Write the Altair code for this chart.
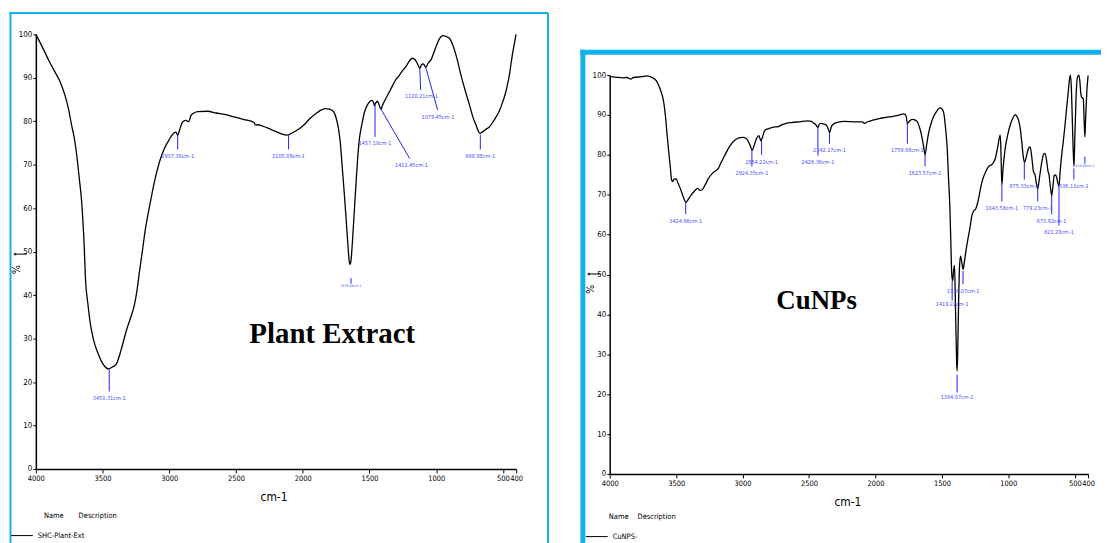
import altair as alt
import pandas as pd

# ---------------- data ----------------
plant_wn = [4000, 3950, 3900, 3856, 3820, 3782, 3755, 3732, 3710, 3694, 3675, 3657, 3640, 3627,
            3610, 3595, 3570, 3533, 3500, 3470, 3454, 3430, 3396, 3360, 3322, 3290, 3260, 3240,
            3223, 3200, 3180, 3160, 3135, 3111, 3075, 3036, 3000, 2962, 2950, 2937, 2920, 2899,
            2875, 2857, 2845, 2837, 2815, 2787, 2713, 2650, 2580, 2515, 2440, 2365, 2353, 2340,
            2300, 2250, 2200, 2160, 2117, 2080, 2040, 1993, 1950, 1900, 1860, 1831, 1800, 1769,
            1750, 1732, 1718, 1707, 1690, 1675, 1660, 1650, 1645, 1638, 1628, 1615, 1600, 1590,
            1575, 1558, 1535, 1508, 1483, 1470, 1463, 1455, 1441, 1430, 1414, 1400, 1371, 1340,
            1297, 1285, 1260, 1222, 1200, 1178, 1160, 1148, 1135, 1123, 1110, 1098, 1088, 1078,
            1060, 1036, 1015, 998, 975, 949, 925, 900, 875, 850, 825, 800, 775, 750, 725, 700,
            685, 671, 655, 630, 601, 575, 551, 525, 502, 480, 465, 452, 440, 425, 410, 402]
plant_t = [100.0, 97.0, 93.8, 91.3, 89.2, 86.0, 82.8, 79.1, 75.8, 72.3, 67.0, 61.6, 53.0, 43.2,
           38.0, 34.1, 30.0, 26.5, 24.3, 23.2, 23.0, 23.4, 24.2, 27.5, 31.8, 34.8, 37.9, 41.5,
           45.5, 50.5, 55.0, 58.5, 62.5, 66.1, 70.5, 73.8, 75.8, 77.4, 77.5, 76.8, 78.3, 79.9,
           80.2, 79.9, 80.6, 81.4, 81.9, 82.2, 82.3, 81.9, 81.5, 81.0, 80.4, 79.7, 79.1, 79.2,
           78.9, 78.3, 77.6, 77.1, 76.8, 77.3, 78.0, 79.1, 80.5, 81.8, 82.6, 82.9, 82.8, 82.2,
           80.8, 78.3, 75.0, 70.7, 64.0, 57.7, 51.0, 47.5, 47.1, 48.0, 52.0, 58.5, 66.0, 70.7,
           76.0, 79.1, 82.3, 84.1, 84.8, 84.4, 83.6, 84.1, 84.6, 84.0, 82.8, 83.8, 85.6, 87.4,
           89.8, 90.2, 91.3, 92.8, 93.9, 94.5, 94.2, 93.7, 92.9, 92.2, 93.0, 93.2, 92.9, 92.4,
           93.4, 94.3, 96.0, 97.4, 99.0, 99.7, 99.5, 99.1, 97.5, 95.1, 92.0, 89.0, 86.3, 83.7,
           81.0, 79.0, 77.8, 77.2, 77.5, 78.1, 78.7, 79.8, 81.0, 82.5, 84.4, 86.5, 88.5, 90.5,
           93.0, 96.0, 98.5, 100.0]

cunp_wn = [4000, 3960, 3900, 3870, 3843, 3820, 3760, 3720, 3680, 3650, 3631, 3610, 3594, 3580,
           3568, 3555, 3543, 3535, 3528, 3515, 3500, 3485, 3469, 3450, 3426, 3410, 3394, 3360,
           3340, 3320, 3306, 3280, 3257, 3220, 3182, 3160, 3132, 3100, 3057, 3020, 2990, 2965,
           2945, 2927, 2912, 2895, 2877, 2862, 2850, 2832, 2800, 2758, 2730, 2707, 2670, 2633,
           2570, 2508, 2480, 2471, 2450, 2433, 2420, 2408, 2385, 2371, 2355, 2346, 2330, 2309,
           2271, 2234, 2150, 2097, 2084, 2060, 2020, 1972, 1900, 1830, 1785, 1770, 1760, 1740,
           1722, 1700, 1685, 1665, 1648, 1635, 1627, 1615, 1600, 1585, 1560, 1540, 1523, 1510,
           1497, 1485, 1472, 1460, 1450, 1440, 1432, 1428, 1423, 1419, 1412, 1405, 1398, 1390,
           1386, 1382, 1375, 1368, 1360, 1350, 1340, 1330, 1311, 1290, 1273, 1260, 1248, 1235,
           1223, 1210, 1198, 1170, 1148, 1124, 1110, 1098, 1080, 1061, 1055, 1049, 1040, 1024,
           1005, 986, 965, 949, 935, 920, 911, 900, 890, 879, 865, 850, 836, 825, 811, 799, 790,
           779, 765, 745, 735, 724, 712, 702, 694, 684, 674, 665, 655, 645, 636, 628, 619, 610,
           600, 587, 575, 562, 550, 540, 532, 525, 518, 512, 506, 500, 490, 480, 469, 462, 455,
           449, 443, 436, 430, 424, 418, 410, 400]
cunp_t = [99.6, 99.5, 99.3, 99.4, 99.0, 99.4, 99.6, 99.8, 99.4, 98.6, 97.4, 95.5, 93.3, 89.5,
          85.0, 80.5, 76.6, 73.8, 73.3, 73.9, 74.0, 72.8, 71.6, 69.8, 68.1, 68.8, 69.6, 71.0,
          71.6, 71.1, 71.2, 72.6, 74.1, 75.6, 76.6, 78.2, 80.0, 82.0, 83.7, 84.3, 84.4, 83.8,
          82.5, 81.2, 82.5, 84.1, 84.8, 83.5, 84.5, 86.2, 86.6, 87.0, 87.1, 87.5, 87.9, 88.1,
          88.3, 88.5, 88.4, 88.1, 87.6, 86.9, 87.8, 87.9, 87.7, 87.5, 86.5, 85.6, 87.2, 87.9,
          88.3, 88.4, 88.3, 88.3, 87.9, 88.3, 88.7, 89.1, 89.5, 89.9, 90.3, 89.8, 87.9, 88.6,
          88.9, 88.7, 88.3, 86.5, 84.1, 81.5, 80.0, 82.5, 85.5, 87.5, 89.8, 90.9, 91.6, 91.8,
          91.4, 90.3, 86.5, 81.6, 74.0, 66.7, 57.0, 51.7, 49.0, 48.5, 51.0, 52.3, 42.0, 29.0,
          25.8, 29.0, 42.0, 51.5, 54.6, 53.0, 51.3, 53.5, 57.6, 61.5, 65.0, 66.0, 66.3, 67.5,
          69.2, 71.5, 73.3, 75.8, 77.1, 77.6, 78.2, 79.1, 82.0, 85.0, 80.0, 72.5, 76.5, 81.6,
          85.0, 87.5, 89.3, 90.1, 89.6, 88.3, 86.7, 83.5, 80.2, 78.1, 79.5, 81.5, 82.0, 79.8,
          75.8, 75.0, 73.0, 71.4, 74.5, 78.8, 80.2, 80.4, 78.5, 76.0, 75.0, 72.0, 69.8, 72.0,
          74.8, 75.0, 74.3, 73.0, 72.1, 76.0, 79.5, 83.3, 87.0, 91.6, 95.5, 99.0, 100.0, 96.0,
          88.0, 81.0, 77.1, 84.0, 95.0, 99.5, 100.0, 98.5, 95.5, 94.5, 94.3, 94.1, 89.0, 84.5,
          89.5, 95.5, 99.9]

# peak annotations: label text, leader line (start wn, start %, end wn, end %), label position
plant_pk_label = ["3450.31cm-1", "2937.38cm-1", "2105.89cm-1", "1638.44cm-1", "1457.18cm-1",
                  "1412.45cm-1", "1120.21cm-1", "1079.45cm-1", "668.98cm-1"]
plant_pk_wn = [3450, 2937, 2106, 1638, 1458, 1414, 1123, 1078, 669]
plant_pk_t = [22.9, 76.9, 76.9, 43.9, 83.8, 82.8, 92.2, 92.4, 76.9]
plant_pk_wn2 = [3450, 2937, 2106, 1638, 1458, 1198, 1116, 989, 669]
plant_pk_t2 = [17.8, 73.5, 73.5, 42.6, 76.4, 71.4, 87.2, 82.6, 73.5]
plant_lb_wn = [3450, 2937, 2106, 1638, 1458, 1185, 1110, 987, 669]
plant_lb_t = [16.3, 71.9, 72.1, 42.1, 75.1, 70.0, 85.8, 81.0, 72.1]
plant_lb_size = [5.5, 5.5, 5.5, 3.5, 5.5, 5.5, 5.5, 5.5, 5.5]

cunp_pk_label = ["3424.66cm-1", "2924.35cm-1", "2854.22cm-1", "2426.36cm-1", "2342.17cm-1",
                 "1759.98cm-1", "1623.57cm-1", "1419.22cm-1", "1384.07cm-1", "1336.07cm-1",
                 "1043.58cm-1", "875.33cm-1", "779.23cm-1", "673.92cm-1", "621.28cm-1",
                 "506.11cm-1", "424.66cm-1"]
cunp_pk_wn = [3428, 2930, 2857, 2433, 2346, 1760, 1627, 1423, 1386, 1341, 1049, 880, 779, 674,
              619, 507, 424]
cunp_pk_t = [68.1, 81.3, 83.5, 87.0, 85.5, 87.8, 80.0, 48.4, 24.9, 50.9, 72.6, 78.1, 71.3, 69.8,
             72.1, 76.6, 79.6]
cunp_pk_t2 = [65.1, 77.1, 80.0, 79.8, 82.8, 82.8, 77.1, 43.4, 20.4, 47.6, 68.3, 73.8, 68.3, 65.1,
              62.3, 73.8, 77.8]
cunp_lb_t = [63.3, 75.4, 78.3, 78.1, 81.2, 81.2, 75.4, 42.7, 19.3, 45.9, 66.7, 72.1, 66.7, 63.3,
             60.7, 72.1, 77.3]
cunp_lb_size = [5.5, 5.5, 5.5, 5.5, 5.5, 5.5, 5.5, 5.5, 5.5, 5.5, 5.5, 5.5, 5.5, 5.5, 5.5, 5.5, 3.5]

XTICKS = [4000, 3500, 3000, 2500, 2000, 1500, 1000, 500, 400]
YTICKS = [0, 10, 20, 30, 40, 50, 60, 70, 80, 90, 100]

NARROW = "DejaVu Sans Condensed, Liberation Sans Narrow, Arial Narrow, sans-serif"
SERIF = "Liberation Serif, Times New Roman, serif"
FRAME = "#12b0ec"
PEAK = "#2020ff"
PEAK_TXT = "#4a4aff"
XLABEL_EXPR = ("datum.value == 500 ? '500\u00a0' : "
               "(datum.value == 400 ? '\u00a0400' : datum.label)")


def panel(wn, t, pk, title_text, title_pos, legend_name, geom):
    w, h, yrange, frame, ypct = geom["w"], geom["h"], geom["yrange"], geom["frame"], geom["ypct"]
    xs = alt.Scale(domain=[400, 4000], reverse=True, nice=False, zero=False)
    ys = alt.Scale(domain=[0, 100], range=yrange, nice=False, zero=False)
    xa = alt.Axis(values=XTICKS, format="d", labelExpr=XLABEL_EXPR, title="cm-1",
                  titleX=geom["tx"], titleY=28,
                  titleFont=NARROW, titleFontSize=12, titleFontWeight="normal", titleColor="black",
                  titleBaseline="middle", labelFont=NARROW, labelFontSize=7.5, labelColor="black",
                  labelPadding=2, tickSize=4, tickColor="black", domainColor="black",
                  domainWidth=1.5, grid=False, labelOverlap=False, labelFlush=False, labelBound=False)
    ya = alt.Axis(values=YTICKS, format="d", title="%", titleX=-19, titleY=ypct,
                  titleFont=NARROW, titleFontSize=11, titleFontWeight="normal", titleColor="black",
                  titleAngle=-90, titleBaseline="middle", titleAlign="center",
                  labelFont=NARROW, labelFontSize=8, labelColor="black", labelPadding=1,
                  tickSize=3, tickColor="black", domainColor="black", domainWidth=1.5,
                  grid=False, labelOverlap=False, labelFlush=False, labelBound=False)
    X = lambda f: alt.X(f, type="quantitative", scale=xs, axis=xa)
    Y = lambda f: alt.Y(f, type="quantitative", scale=ys, axis=ya)

    df = pd.DataFrame({"wn": wn, "T": t})
    line = alt.Chart(df).mark_line(color="black", strokeWidth=1.3, interpolate="monotone").encode(
        x=X("wn"), y=Y("T"), order=alt.Order("wn", sort="descending"))

    pdf = pd.DataFrame(pk)
    rules = alt.Chart(pdf).mark_rule(color=PEAK, strokeWidth=1).encode(
        x=X("wn"), x2="wn2", y=Y("T"), y2="T2")
    labels = alt.Chart(pdf).mark_text(font=NARROW, color=PEAK_TXT, baseline="middle",
                                      align="center").encode(
        x=X("lwn"), y=Y("lt"), text="label", size=alt.Size("size:Q", scale=None, legend=None))

    tdf = pd.DataFrame({"wn": [title_pos[0]], "T": [title_pos[1]], "txt": [title_text]})
    big = alt.Chart(tdf).mark_text(font=SERIF, fontWeight="bold", fontSize=geom["tsize"],
                                   color="black", baseline="middle", align="center").encode(
        x=X("wn"), y=Y("T"), text="txt")

    one = pd.DataFrame({"d": [0]})
    fl, ft, fr, fb, fw = frame
    deco = [
        alt.Chart(one).mark_rule(color=FRAME, strokeWidth=fw).encode(
            x=alt.value(fl), y=alt.value(ft - fw / 2), y2=alt.value(fb)),
        alt.Chart(one).mark_rule(color=FRAME, strokeWidth=fw).encode(
            x=alt.value(fl - fw / 2), x2=alt.value(fr), y=alt.value(ft)),
    ]
    if geom["right_edge"]:
        deco.append(alt.Chart(one).mark_rule(color=FRAME, strokeWidth=fw).encode(
            x=alt.value(fr), y=alt.value(ft), y2=alt.value(fb)))
    # little symbol next to the % label
    sy = geom["sym_y"]
    deco.append(alt.Chart(one).mark_rule(color="black", strokeWidth=1).encode(
        x=alt.value(-21), x2=alt.value(-9), y=alt.value(sy)))
    deco.append(alt.Chart(one).mark_point(color="black", filled=True, size=6, shape="square").encode(
        x=alt.value(-21), y=alt.value(sy)))
    # name / description legend
    ly = geom["leg_y"]
    deco += [
        alt.Chart(one).mark_text(font=NARROW, fontSize=7.5, color="black", align="right").encode(
            x=alt.value(geom["name_x"]), y=alt.value(ly), text=alt.value("Name")),
        alt.Chart(one).mark_text(font=NARROW, fontSize=7.5, color="black", align="left").encode(
            x=alt.value(geom["desc_x"]), y=alt.value(ly), text=alt.value("Description")),
        alt.Chart(one).mark_rule(color="black", strokeWidth=1).encode(
            x=alt.value(geom["line_x"][0]), x2=alt.value(geom["line_x"][1]), y=alt.value(ly + 20)),
        alt.Chart(one).mark_text(font=NARROW, fontSize=7.5, color="black", align="left").encode(
            x=alt.value(geom["line_x"][1] + 5), y=alt.value(ly + 20), text=alt.value(legend_name)),
    ]

    return alt.layer(*deco, line, rules, labels, big).properties(width=w, height=h)


plant_pk = {"label": plant_pk_label, "wn": plant_pk_wn, "T": plant_pk_t, "wn2": plant_pk_wn2,
            "T2": plant_pk_t2, "lwn": plant_lb_wn, "lt": plant_lb_t, "size": plant_lb_size}
cunp_pk = {"label": cunp_pk_label, "wn": cunp_pk_wn, "T": cunp_pk_t, "wn2": cunp_pk_wn,
           "T2": cunp_pk_t2, "lwn": cunp_pk_wn, "lt": cunp_lb_t, "size": cunp_lb_size}

left = panel(plant_wn, plant_t, plant_pk, "Plant Extract", (1779, 31.1), "SHC-Plant-Ext",
             dict(w=483, h=437, yrange=[437, 0], frame=(-25.5, -21.5, 515, 512, 2),
                  ypct=236, sym_y=221, tx=239, tsize=29, right_edge=True,
                  leg_y=484, name_x=28, desc_x=43, line_x=(-25, -3)))
right = panel(cunp_wn, cunp_t, cunp_pk, "CuNPs", (2443, 43.4), "CuNPS-",
              dict(w=481, h=442, yrange=[442, 41], frame=(-27, 18, 494, 512, 5),
                   ypct=256, sym_y=241, tx=239, tsize=27, right_edge=False,
                   leg_y=485, name_x=19, desc_x=28, line_x=(-24, -2)))

chart = alt.hconcat(left, right, spacing=29).properties(
    padding={"left": 0, "top": 1, "right": 0, "bottom": 0}, background="white"
).configure_view(strokeWidth=0, stroke="transparent")

chart.save("out.html", embed_options={"renderer": "svg", "actions": False})
